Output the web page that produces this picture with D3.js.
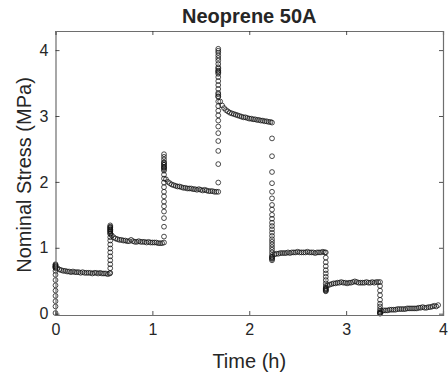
<!DOCTYPE html>
<html><head><meta charset="utf-8">
<script src="https://cdn.jsdelivr.net/npm/d3@7"></script>
<style>
html,body{margin:0;padding:0;background:#fff;}
svg{display:block;}
text{font-family:"Liberation Sans",Arial,Helvetica,sans-serif;fill:#262626;}
</style></head>
<body>
<svg id="chart" width="448" height="380"></svg>
<script>
// ---- data ----
const xTicks = [0, 1, 2, 3, 4];
const yTicks = [0, 1, 2, 3, 4];
const titleText = "Neoprene 50A";
const xLabel = "Time (h)";
const yLabel = "Nominal Stress (MPa)";

// loading/unloading ramps: time of each step and stress samples at that time
const rampTimes = [0.0, 0.565, 1.12, 1.68, 2.235, 2.79, 3.35];
const ramp1 = [0.01,0.11,0.19,0.27,0.35,0.43,0.51,0.59,0.65,0.69,0.71,0.73,0.74,0.75,0.72,0.71,0.70];
const ramp2 = [0.62,0.69,0.75,0.81,0.87,0.93,0.99,1.05,1.11,1.16,1.21,1.25,1.28,1.30,1.32,1.34,1.31,1.28,1.26,1.24,1.22];
const ramp3 = [1.08,1.17,1.32,1.45,1.55,1.63,1.70,1.78,1.85,1.92,1.99,2.05,2.11,2.17,2.22,2.26,2.30,2.34,2.38,2.42,2.29,2.26,2.23,2.21,2.19];
const ramp4 = [1.85,1.99,2.27,2.47,2.62,2.74,2.84,2.93,3.01,3.08,3.15,3.22,3.29,3.35,3.41,3.47,3.53,3.59,3.64,3.69,3.74,3.79,3.84,3.88,3.92,3.96,3.99,4.02,3.72,3.68,3.66,3.33,3.30];
const ramp5 = [2.90,2.66,2.39,2.15,1.98,1.85,1.75,1.65,1.58,1.50,1.44,1.38,1.33,1.28,1.23,1.18,1.13,1.09,1.05,1.01,0.97,0.93,0.89,0.86,0.83,0.81,0.84,0.86];
const ramp6 = [0.93,0.85,0.78,0.72,0.66,0.61,0.56,0.51,0.46,0.42,0.39,0.37,0.35,0.34,0.36,0.38];
const ramp7 = [0.48,0.42,0.35,0.28,0.21,0.15,0.11,0.07,0.04,0.02,0.01,0.00,0.01];
const ramps = [ramp1, ramp2, ramp3, ramp4, ramp5, ramp6, ramp7];

// holds (relaxation / recovery): time (h) and stress (MPa)
const hold1T = [0.02,0.04,0.06,0.08,0.10,0.12,0.14,0.16,0.18,0.20,0.22,0.24,0.26,0.28,0.30,0.32,0.34,0.36,0.38,0.40,0.42,0.44,0.46,0.48,0.50,0.52,0.54,0.56];
const hold1S = [0.69,0.67,0.66,0.65,0.65,0.64,0.64,0.63,0.64,0.63,0.63,0.63,0.62,0.63,0.62,0.62,0.62,0.62,0.61,0.62,0.62,0.61,0.62,0.61,0.61,0.61,0.60,0.61];
const hold2T = [0.58,0.60,0.62,0.64,0.66,0.68,0.70,0.72,0.74,0.76,0.78,0.80,0.82,0.84,0.86,0.88,0.90,0.92,0.94,0.96,0.98,1.00,1.02,1.04,1.06,1.08,1.10];
const hold2S = [1.19,1.16,1.14,1.13,1.12,1.12,1.11,1.11,1.10,1.10,1.12,1.10,1.09,1.09,1.10,1.09,1.09,1.09,1.08,1.09,1.08,1.08,1.08,1.08,1.07,1.07,1.07];
const hold3T = [1.14,1.16,1.18,1.20,1.22,1.24,1.26,1.28,1.30,1.32,1.34,1.36,1.38,1.40,1.42,1.44,1.46,1.48,1.50,1.52,1.54,1.56,1.58,1.60,1.62,1.64,1.66];
const hold3S = [2.04,2.00,1.98,1.96,1.95,1.94,1.93,1.93,1.92,1.91,1.91,1.90,1.90,1.90,1.89,1.89,1.88,1.89,1.88,1.87,1.88,1.87,1.86,1.86,1.86,1.85,1.85];
const hold4T = [1.70,1.72,1.74,1.76,1.78,1.80,1.82,1.84,1.86,1.88,1.90,1.92,1.94,1.96,1.98,2.00,2.02,2.04,2.06,2.08,2.10,2.12,2.14,2.16,2.18,2.20,2.22];
const hold4S = [3.22,3.16,3.12,3.09,3.07,3.05,3.04,3.03,3.02,3.01,3.00,2.99,2.98,2.98,2.97,2.96,2.96,2.95,2.95,2.94,2.94,2.93,2.93,2.92,2.92,2.91,2.91];
const hold5T = [2.26,2.28,2.30,2.32,2.34,2.36,2.38,2.40,2.42,2.44,2.46,2.48,2.50,2.52,2.54,2.56,2.58,2.60,2.62,2.64,2.66,2.68,2.70,2.72,2.74,2.76,2.78];
const hold5S = [0.90,0.91,0.91,0.92,0.92,0.92,0.92,0.93,0.92,0.93,0.93,0.93,0.94,0.93,0.93,0.93,0.93,0.94,0.93,0.93,0.93,0.92,0.93,0.93,0.93,0.94,0.93];
const hold6T = [2.81,2.83,2.85,2.87,2.89,2.91,2.93,2.95,2.97,2.99,3.01,3.03,3.05,3.07,3.09,3.11,3.13,3.15,3.17,3.19,3.21,3.23,3.25,3.27,3.29,3.31,3.33];
const hold6S = [0.43,0.44,0.45,0.46,0.46,0.47,0.47,0.48,0.47,0.47,0.46,0.47,0.47,0.48,0.49,0.48,0.47,0.47,0.47,0.47,0.48,0.47,0.47,0.48,0.47,0.48,0.48];
const hold7T = [3.37,3.39,3.41,3.43,3.45,3.47,3.49,3.51,3.53,3.55,3.57,3.59,3.61,3.63,3.65,3.67,3.69,3.71,3.73,3.75,3.77,3.79,3.81,3.83,3.85,3.87,3.89,3.91,3.93,3.95];
const hold7S = [0.04,0.05,0.05,0.05,0.06,0.06,0.06,0.06,0.07,0.07,0.07,0.07,0.07,0.08,0.08,0.08,0.08,0.08,0.08,0.09,0.09,0.10,0.09,0.09,0.10,0.10,0.11,0.12,0.11,0.13];
const holdTimes = [hold1T, hold2T, hold3T, hold4T, hold5T, hold6T, hold7T];
const holdStress = [hold1S, hold2S, hold3S, hold4S, hold5S, hold6S, hold7S];

// build point table
const points = [];
ramps.forEach((r, i) => {
  r.forEach(s => points.push({t: rampTimes[i], s}));
  holdTimes[i].forEach((t, j) => points.push({t, s: holdStress[i][j]}));
});

// ---- layout ----
const L = 55.5, R = 443, T = 31, B = 315;
const svg = d3.select("#chart");
const x = d3.scaleLinear().domain([0, 4]).range([L, R]);
const y = d3.scaleLinear().domain([-0.02, 4.29]).range([B, T]);
const axisColor = "#262626";

// markers
svg.append("g").selectAll("circle").data(points).join("circle")
  .attr("cx", d => x(d.t)).attr("cy", d => y(d.s)).attr("r", 2.4)
  .attr("fill", "none").attr("stroke", "#111").attr("stroke-width", 0.75);

// axes
const gx = svg.append("g").attr("transform", `translate(0,${B})`)
  .call(d3.axisBottom(x).tickValues(xTicks).tickSize(-4).tickPadding(9).tickFormat(d3.format("d")));
const gxTop = svg.append("g").attr("transform", `translate(0,${T})`)
  .call(d3.axisTop(x).tickValues(xTicks).tickSize(-4).tickFormat(""));
const gy = svg.append("g").attr("transform", `translate(${L},0)`)
  .call(d3.axisLeft(y).tickValues(yTicks).tickSize(-4).tickPadding(7).tickFormat(d3.format("d")));
const gyR = svg.append("g").attr("transform", `translate(${R},0)`)
  .call(d3.axisRight(y).tickValues(yTicks).tickSize(-4).tickFormat(""));
[gx, gxTop, gy, gyR].forEach(g => {
  g.select(".domain").attr("stroke", "#6e6e6e").attr("stroke-width", 1.2);
  g.selectAll(".tick line").attr("stroke", axisColor).attr("stroke-width", 0.8);
  g.selectAll("text").attr("font-size", 16).attr("font-family", "Liberation Sans, Arial, sans-serif").attr("fill", axisColor);
});
gx.selectAll(".tick text").attr("dy", "0.71em");

// title and labels
svg.append("text").attr("x", (L + R) / 2).attr("y", 23).attr("text-anchor", "middle")
  .attr("font-size", 20).attr("font-weight", "bold").attr("fill", "#000").text(titleText);
svg.append("text").attr("x", (L + R) / 2).attr("y", 368).attr("text-anchor", "middle")
  .attr("font-size", 20).text(xLabel);
svg.append("text").attr("transform", `translate(31,${(T + B) / 2 + 2}) rotate(-90)`)
  .attr("text-anchor", "middle").attr("font-size", 20).text(yLabel);
</script>
</body></html>
